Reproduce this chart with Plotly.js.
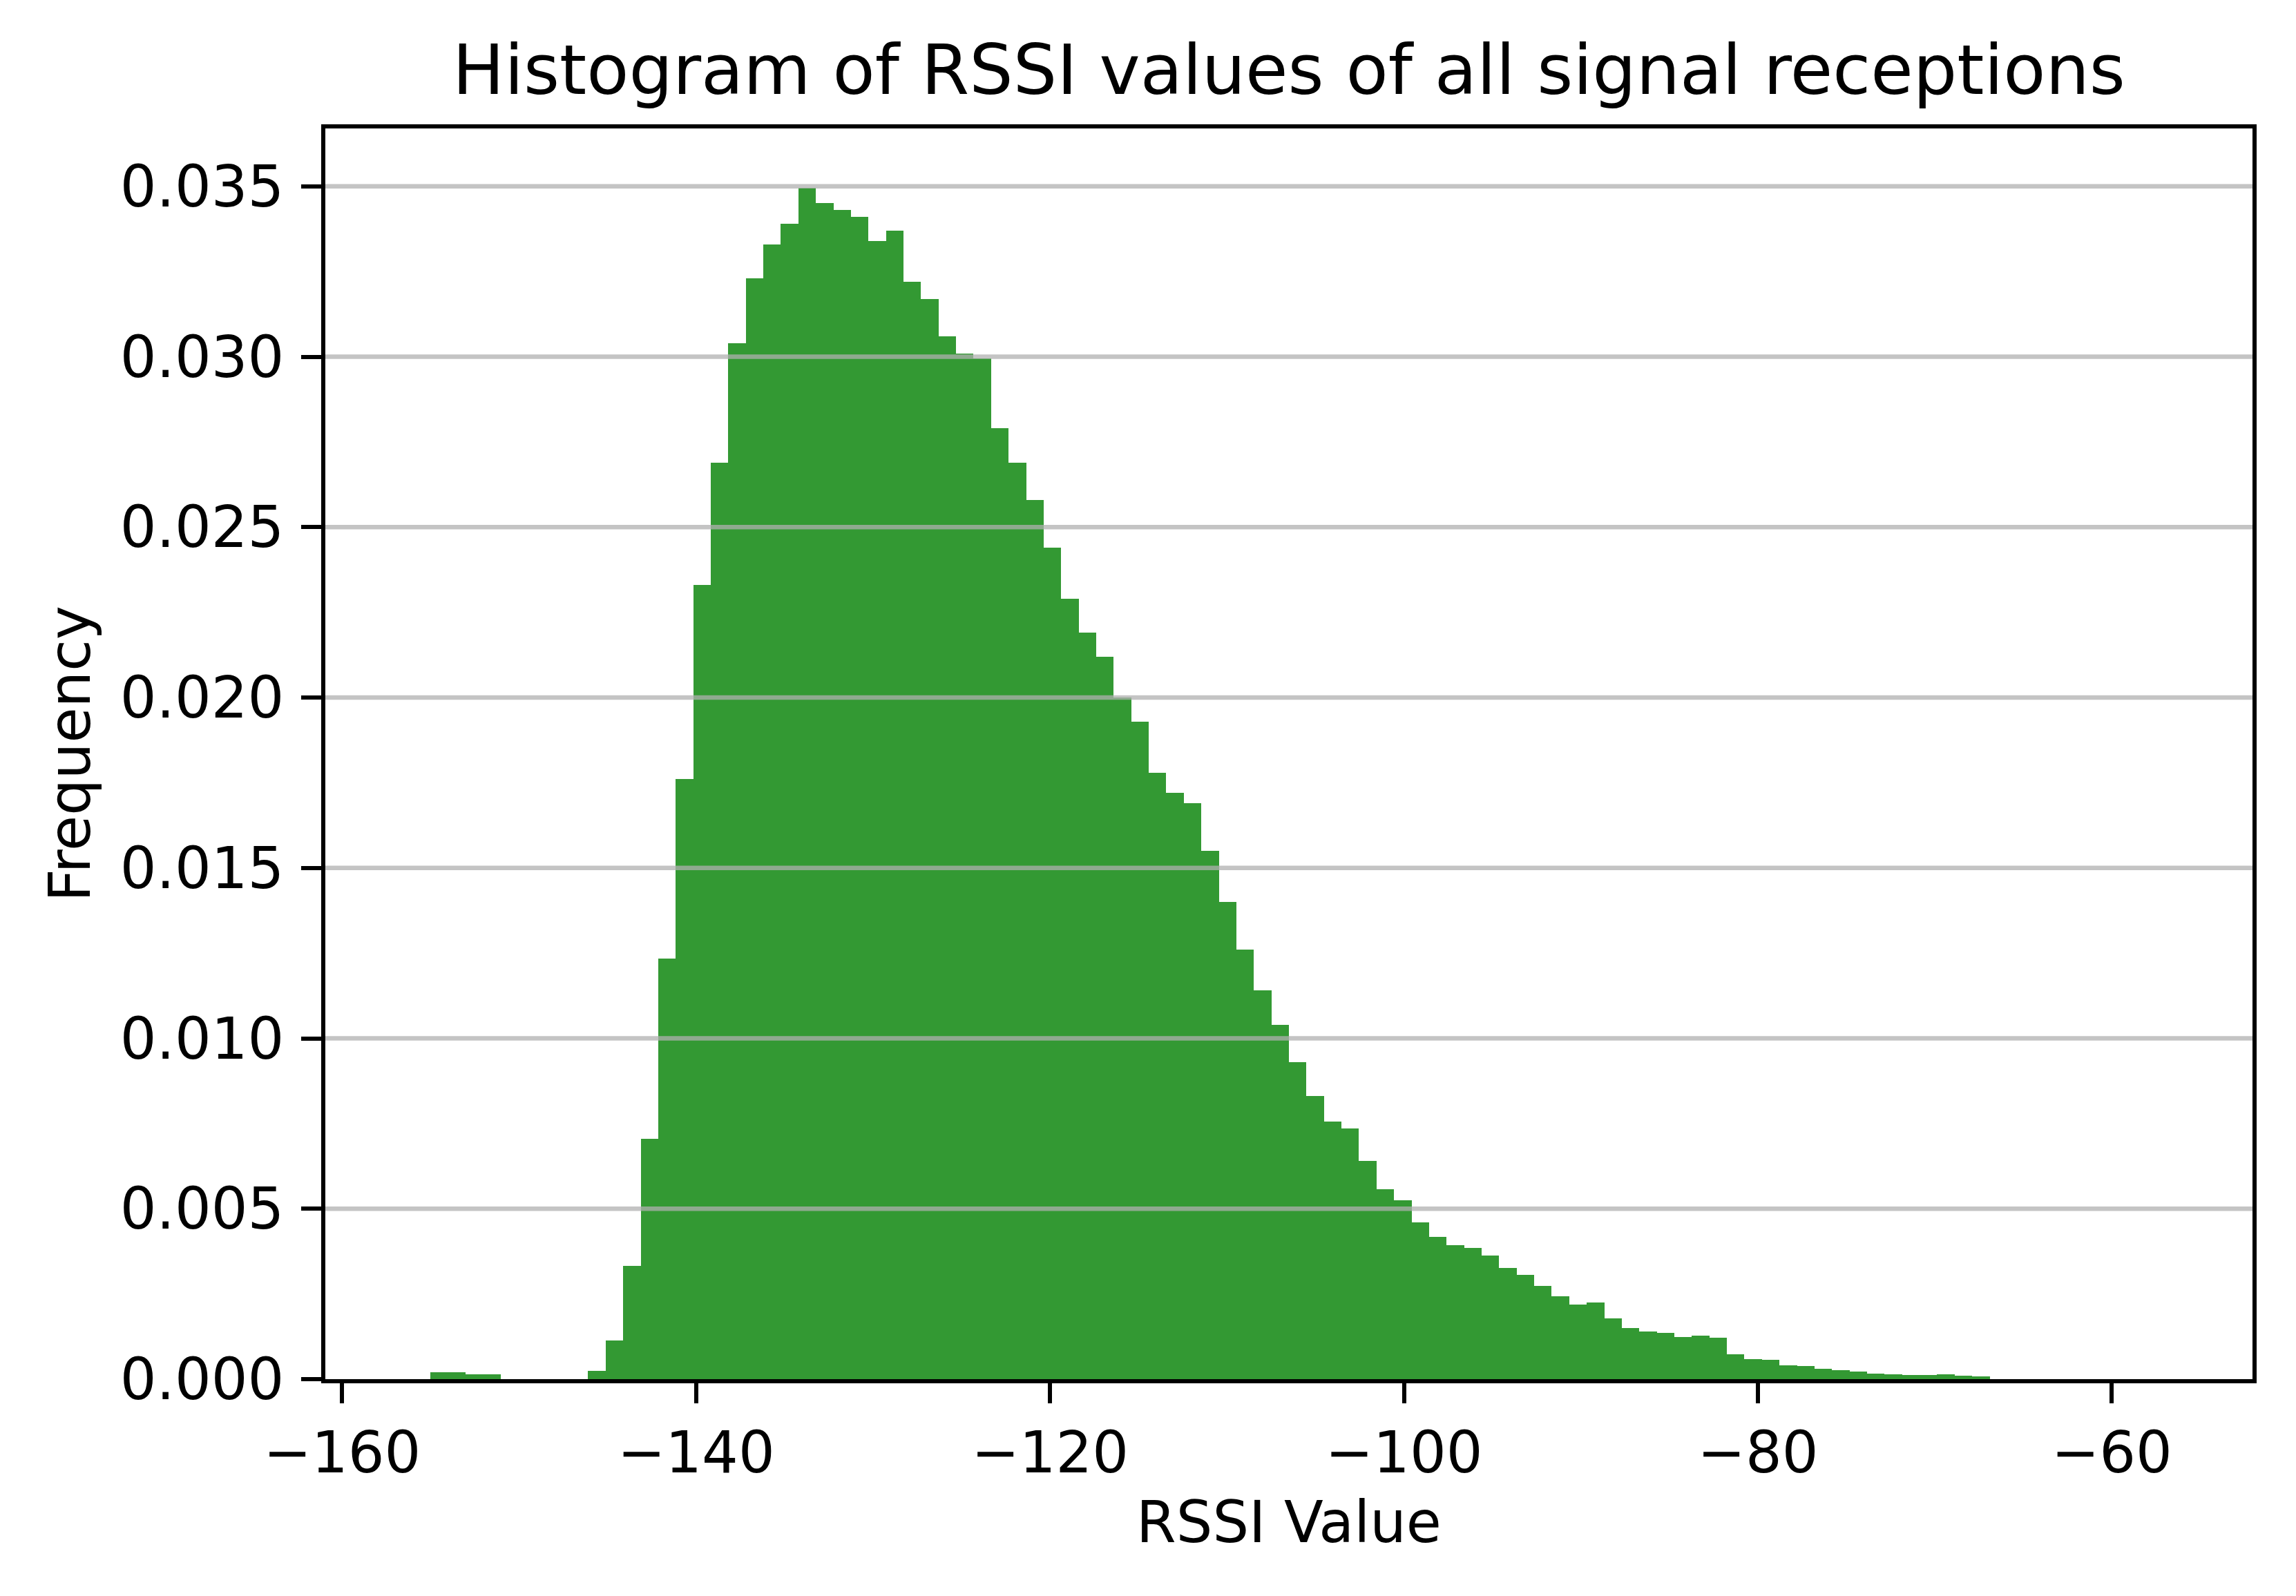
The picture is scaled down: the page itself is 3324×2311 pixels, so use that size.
<!DOCTYPE html>
<html>
<head>
<meta charset="utf-8">
<script src="https://cdn.plot.ly/plotly-3.0.1.min.js"></script>
<style>
  html, body { margin: 0; padding: 0; background: #fff; }
  #hist { width: 3324px; height: 2311px; }
</style>
</head>
<body>
<div id="hist"></div>
<script>
// histogram bins: 100 bins of width 0.99 starting at -156
var binStart = -156;
var binWidth = 0.99;

// normalised frequency per bin
var frequency = [
    0, 0.00021, 0.00021, 0.00015, 0.00015, 0, 0, 0, 0, 0,
    0.00025, 0.00114, 0.00333, 0.00705, 0.01235, 0.0176, 0.0233, 0.0269, 0.0304, 0.0323,
    0.0333, 0.0339, 0.03495, 0.0345, 0.0343, 0.0341, 0.0334, 0.0337, 0.0322, 0.0317,
    0.0306, 0.0301, 0.02995, 0.0279, 0.0269, 0.0258, 0.0244, 0.0229, 0.0219, 0.0212,
    0.0200, 0.0193, 0.0178, 0.0172, 0.0169, 0.0155, 0.0140, 0.0126, 0.0114, 0.0104,
    0.0093, 0.0083, 0.00756, 0.00736, 0.00641, 0.00557, 0.00525, 0.00460, 0.00418, 0.00393,
    0.00385, 0.00363, 0.00326, 0.00306, 0.00274, 0.00243, 0.00219, 0.00225, 0.00178, 0.00149,
    0.00139, 0.00135, 0.00123, 0.00127, 0.00121, 0.00073, 0.00059, 0.00057, 0.00040, 0.00038,
    0.00030, 0.00026, 0.00022, 0.00016, 0.00014, 0.00012, 0.00013, 0.00015, 0.00011, 0.00009,
    0, 0, 0, 0, 0, 0, 0, 0, 0, 0
];

var xTicks = [-160, -140, -120, -100, -80, -60];
var yTicks = [0, 0.005, 0.010, 0.015, 0.020, 0.025, 0.030, 0.035];

function plotHistogram() {
    var centers = frequency.map((f, i) => binStart + binWidth * (i + 0.5));

    // matplotlib-like 5% margins around data
    var lo = binStart, hi = binStart + binWidth * frequency.length;
    var pad = (hi - lo) * 0.05;
    var yMax = Math.max.apply(null, frequency) * 1.05;

    var trace = {
        type: 'bar',
        x: centers,
        y: frequency,
        width: binWidth,
        marker: { color: '#339933', line: { width: 0 } },
        hoverinfo: 'x+y'
    };

    var font = { family: 'DejaVu Sans', color: '#000' };

    // y grid drawn over the bars, as in the original
    var grid = yTicks.filter(v => v > 0).map(v => ({
        type: 'line', xref: 'paper', yref: 'y', layer: 'above',
        x0: 0, x1: 1, y0: v, y1: v,
        line: { color: 'rgba(176,176,176,0.75)', width: 6.5 }
    }));

    var axisCommon = {
        showline: true, linecolor: '#000', linewidth: 6, mirror: true,
        ticks: 'outside', ticklen: 29, tickwidth: 6, tickcolor: '#000',
        showgrid: false, zeroline: false,
        tickfont: Object.assign({ size: 83 }, font)
    };

    var layout = {
        width: 3324,
        height: 2311,
        margin: { l: 471, r: 63, t: 186, b: 314 },
        paper_bgcolor: '#fff',
        plot_bgcolor: '#fff',
        showlegend: false,
        bargap: 0,
        font: font,
        title: {
            text: 'Histogram of RSSI values of all signal receptions',
            font: Object.assign({ size: 100 }, font),
            xref: 'paper', x: 0.5, xanchor: 'center',
            yref: 'container', y: 1 - 136 / 2311, yanchor: 'bottom'
        },
        xaxis: Object.assign({}, axisCommon, {
            range: [lo - pad, hi + pad],
            tickvals: xTicks,
            title: { text: 'RSSI Value', font: Object.assign({ size: 83 }, font), standoff: 26 }
        }),
        yaxis: Object.assign({}, axisCommon, {
            range: [0, yMax],
            tickvals: yTicks,
            tickformat: '.3f',
            ticklabelstandoff: 8,
            title: { text: 'Frequency', font: Object.assign({ size: 83 }, font), standoff: 18 }
        }),
        shapes: grid
    };

    Plotly.newPlot('hist', [trace], layout, { staticPlot: true });
}

document.addEventListener('DOMContentLoaded', plotHistogram);
</script>
</body>
</html>
